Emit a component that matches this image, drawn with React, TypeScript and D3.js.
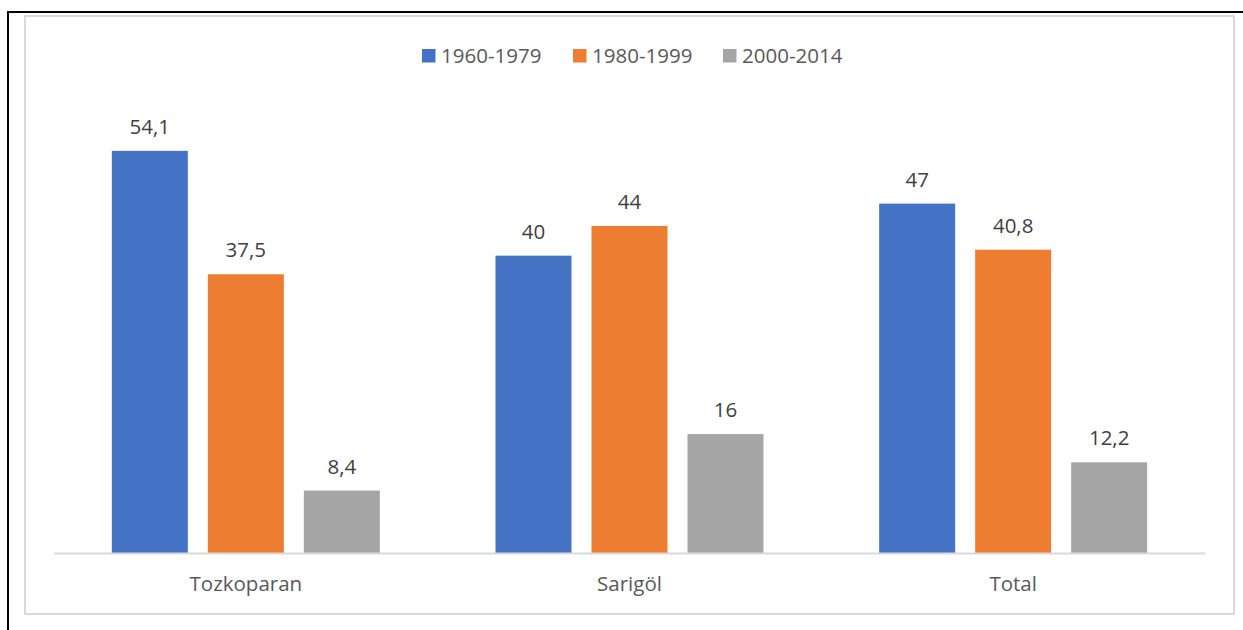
import * as d3 from "d3";
import { useEffect, useRef } from "react";

const categories = ["Tozkoparan", "Sarigöl", "Total"];
const seriesNames = ["1960-1979", "1980-1999", "2000-2014"];
const seriesColors = ["#4472C4", "#ED7D31", "#A5A5A5"];
const values1960 = [54.1, 40, 47];
const values1980 = [37.5, 44, 40.8];
const values2000 = [8.4, 16, 12.2];
const valueLabels = [
  ["54,1", "40", "47"],
  ["37,5", "44", "40,8"],
  ["8,4", "16", "12,2"],
];

const W = 1243;
const H = 630;
const FONT = "'Open Sans', 'Liberation Sans', sans-serif";

export default function App() {
  const svgRef = useRef<SVGSVGElement>(null);

  useEffect(() => {
    const svg = d3.select(svgRef.current);
    svg.selectAll("*").remove();
    svg.attr("width", W).attr("height", H).style("background", "#FFF");

    const series = [values1960, values1980, values2000];

    // outer frame (black, left/top visible) and chart area border
    svg.append("path")
      .attr("d", `M8,${H} L8,12 L${W},12`)
      .attr("fill", "none")
      .attr("stroke", "#000")
      .attr("stroke-width", 2);
    svg.append("rect")
      .attr("x", 25)
      .attr("y", 16)
      .attr("width", 1209)
      .attr("height", 598)
      .attr("fill", "#fff")
      .attr("stroke", "#d9d9d9")
      .attr("stroke-width", 2);

    const left = 54;
    const right = 1205;
    const baseline = 553;

    const x0 = d3.scaleBand().domain(categories).range([left, right]).padding(0);
    const x1 = d3.scaleBand()
      .domain(seriesNames)
      .range([0, x0.bandwidth()])
      .paddingInner(0.2083)
      .paddingOuter(0.6025);
    const y = d3.scaleLinear().domain([0, 60]).range([baseline, 107]);

    const g = svg.append("g");
    series.forEach((vals, si) => {
      const name = seriesNames[si];
      g.selectAll(`.bar-${si}`)
        .data(vals)
        .join("rect")
        .attr("x", (d, i) => x0(categories[i])! + x1(name)!)
        .attr("y", (d) => y(d))
        .attr("width", x1.bandwidth())
        .attr("height", (d) => baseline - y(d))
        .attr("fill", seriesColors[si]);

      g.selectAll(`.lbl-${si}`)
        .data(vals)
        .join("text")
        .attr("x", (d, i) => x0(categories[i])! + x1(name)! + x1.bandwidth() / 2)
        .attr("y", (d) => y(d) - 17)
        .attr("text-anchor", "middle")
        .style("font-family", FONT)
        .style("font-size", "20.5px")
        .attr("fill", "#404040")
        .text((d, i) => valueLabels[si][i]);
    });

    // axis line
    svg.append("line")
      .attr("x1", left)
      .attr("x2", right)
      .attr("y1", baseline + 0.5)
      .attr("y2", baseline + 0.5)
      .attr("stroke", "#d9d9d9")
      .attr("stroke-width", 2);

    svg.selectAll(".cat")
      .data(categories)
      .join("text")
      .attr("x", (d) => x0(d)! + x0.bandwidth() / 2)
      .attr("y", 591)
      .attr("text-anchor", "middle")
      .style("font-family", FONT)
      .style("font-size", "20.5px")
      .attr("fill", "#595959")
      .text((d) => d);

    // legend
    const legendX = [422, 573, 723];
    const legend = svg.append("g");
    seriesNames.forEach((name, i) => {
      legend.append("rect")
        .attr("x", legendX[i])
        .attr("y", 49)
        .attr("width", 13.5)
        .attr("height", 13.5)
        .attr("fill", seriesColors[i]);
      legend.append("text")
        .attr("x", legendX[i] + 19)
        .attr("y", 62.5)
        .style("font-family", FONT)
        .style("font-size", "20.5px")
        .attr("fill", "#595959")
        .text(name);
    });
  }, []);

  return (
    <div style={{ position: "absolute", left: 0, top: 0 }}>
      <svg ref={svgRef} style={{ display: "block" }} />
    </div>
  );
}
